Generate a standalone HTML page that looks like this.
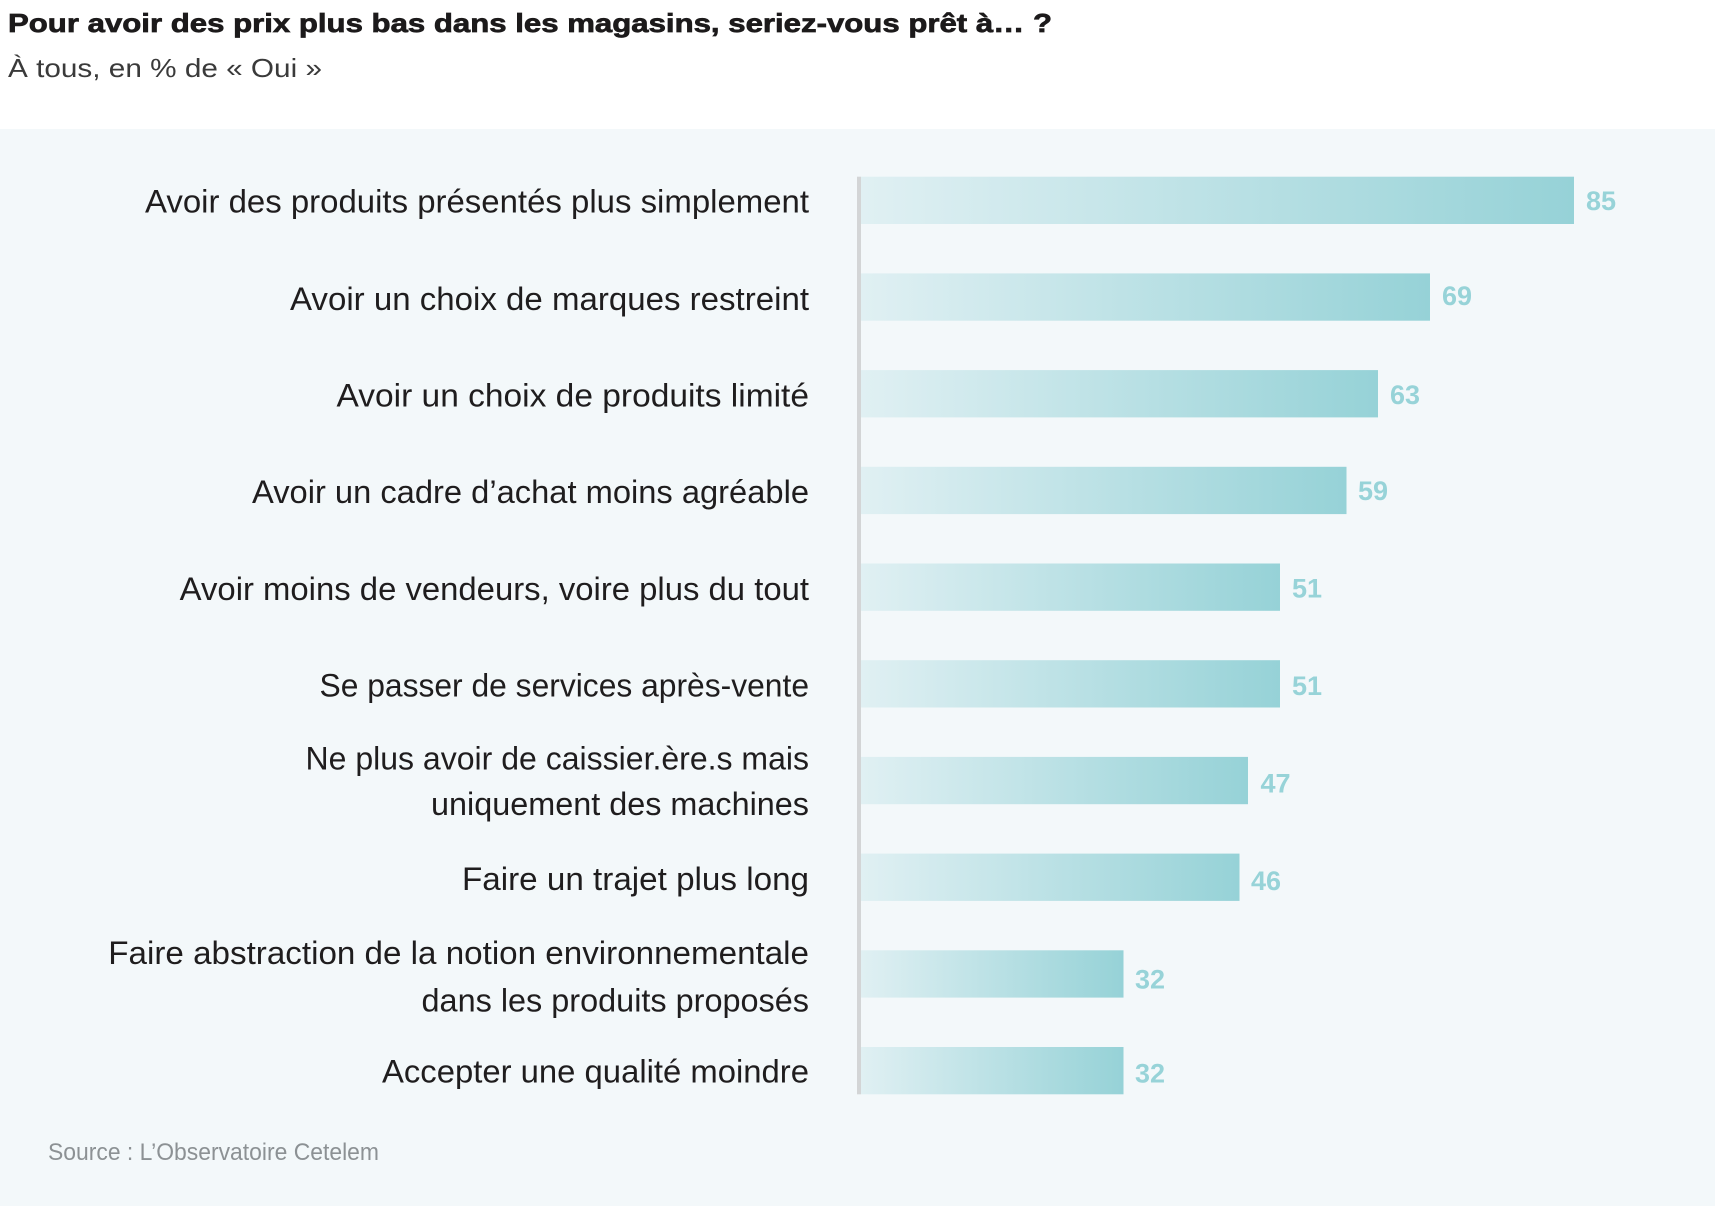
<!DOCTYPE html>
<html lang="fr">
<head>
<meta charset="utf-8">
<title>Pour avoir des prix plus bas</title>
<style>
  html, body { margin: 0; padding: 0; background: #ffffff; }
  body { width: 1715px; height: 1206px; overflow: hidden; }
  svg { display: block; }
  .lab { font-family: "Liberation Sans", "DejaVu Sans", sans-serif; font-size: 32px; fill: #1f1d1e; }
  .val { font-family: "Liberation Sans", "DejaVu Sans", sans-serif; font-size: 27px; font-weight: bold; fill: #97d3d8; }
</style>
</head>
<body>
<svg width="1715" height="1206" viewBox="0 0 1715 1206" xmlns="http://www.w3.org/2000/svg">
  <defs>
    <linearGradient id="g" x1="0" y1="0" x2="1" y2="0">
      <stop offset="0" stop-color="#e0f0f3"/>
      <stop offset="1" stop-color="#96d2d7"/>
    </linearGradient>
  </defs>

  <rect x="0" y="0" width="1715" height="1206" fill="#ffffff"/>
  <rect x="0" y="129" width="1715" height="1077" fill="#f3f8fa"/>

  <!-- Title -->
  <text x="8" y="32" font-family="Liberation Sans, DejaVu Sans, sans-serif" font-size="26" font-weight="bold" fill="#1c1a1b" stroke="#1c1a1b" stroke-width="0.7" textLength="1044" lengthAdjust="spacingAndGlyphs">Pour avoir des prix plus bas dans les magasins, seriez-vous prêt à… ?</text>
  <text x="8" y="77" font-family="Liberation Sans, DejaVu Sans, sans-serif" font-size="26" fill="#3a3a3a" textLength="314" lengthAdjust="spacingAndGlyphs">À tous, en % de « Oui »</text>

  <!-- Bars -->
  <rect x="861" y="176.7" width="713" height="47.3" fill="url(#g)"/>
  <rect x="861" y="273.4" width="569" height="47.3" fill="url(#g)"/>
  <rect x="861" y="370.1" width="517" height="47.3" fill="url(#g)"/>
  <rect x="861" y="466.8" width="485.5" height="47.3" fill="url(#g)"/>
  <rect x="861" y="563.5" width="419" height="47.3" fill="url(#g)"/>
  <rect x="861" y="660.2" width="419" height="47.3" fill="url(#g)"/>
  <rect x="861" y="756.9" width="387" height="47.3" fill="url(#g)"/>
  <rect x="861" y="853.6" width="378.5" height="47.3" fill="url(#g)"/>
  <rect x="861" y="950.3" width="262.5" height="47.3" fill="url(#g)"/>
  <rect x="861" y="1047" width="262.5" height="47.3" fill="url(#g)"/>

  <!-- Axis -->
  <rect x="857" y="176.7" width="4" height="917.6" fill="#d3d5d6"/>

  <!-- Value labels -->
  <text class="val" x="1586" y="210">85</text>
  <text class="val" x="1442" y="305">69</text>
  <text class="val" x="1390" y="404">63</text>
  <text class="val" x="1358" y="500">59</text>
  <text class="val" x="1292" y="597.7">51</text>
  <text class="val" x="1292" y="695">51</text>
  <text class="val" x="1260.5" y="792.7">47</text>
  <text class="val" x="1251" y="890">46</text>
  <text class="val" x="1135" y="988.3">32</text>
  <text class="val" x="1135" y="1082.3">32</text>

  <!-- Category labels -->
  <text class="lab" x="145" y="212.7" textLength="664" lengthAdjust="spacingAndGlyphs">Avoir des produits présentés plus simplement</text>
  <text class="lab" x="290" y="310" textLength="519" lengthAdjust="spacingAndGlyphs">Avoir un choix de marques restreint</text>
  <text class="lab" x="336.5" y="406.4" textLength="472.5" lengthAdjust="spacingAndGlyphs">Avoir un choix de produits limité</text>
  <text class="lab" x="252" y="503.1" textLength="557" lengthAdjust="spacingAndGlyphs">Avoir un cadre d’achat moins agréable</text>
  <text class="lab" x="179.7" y="599.8" textLength="629.3" lengthAdjust="spacingAndGlyphs">Avoir moins de vendeurs, voire plus du tout</text>
  <text class="lab" x="319.5" y="696.5" textLength="489.5" lengthAdjust="spacingAndGlyphs">Se passer de services après-vente</text>
  <text class="lab" x="305.5" y="769.3" textLength="503.5" lengthAdjust="spacingAndGlyphs">Ne plus avoir de caissier.ère.s mais</text>
  <text class="lab" x="431" y="815" textLength="378" lengthAdjust="spacingAndGlyphs">uniquement des machines</text>
  <text class="lab" x="462" y="890" textLength="347" lengthAdjust="spacingAndGlyphs">Faire un trajet plus long</text>
  <text class="lab" x="108.3" y="964" textLength="700.7" lengthAdjust="spacingAndGlyphs">Faire abstraction de la notion environnementale</text>
  <text class="lab" x="421.5" y="1011.7" textLength="387.5" lengthAdjust="spacingAndGlyphs">dans les produits proposés</text>
  <text class="lab" x="382" y="1082.5" textLength="427" lengthAdjust="spacingAndGlyphs">Accepter une qualité moindre</text>

  <!-- Source -->
  <text x="48" y="1160" font-family="Liberation Sans, DejaVu Sans, sans-serif" font-size="24" fill="#8c9194" textLength="331" lengthAdjust="spacingAndGlyphs">Source : L’Observatoire Cetelem</text>
</svg>
</body>
</html>
